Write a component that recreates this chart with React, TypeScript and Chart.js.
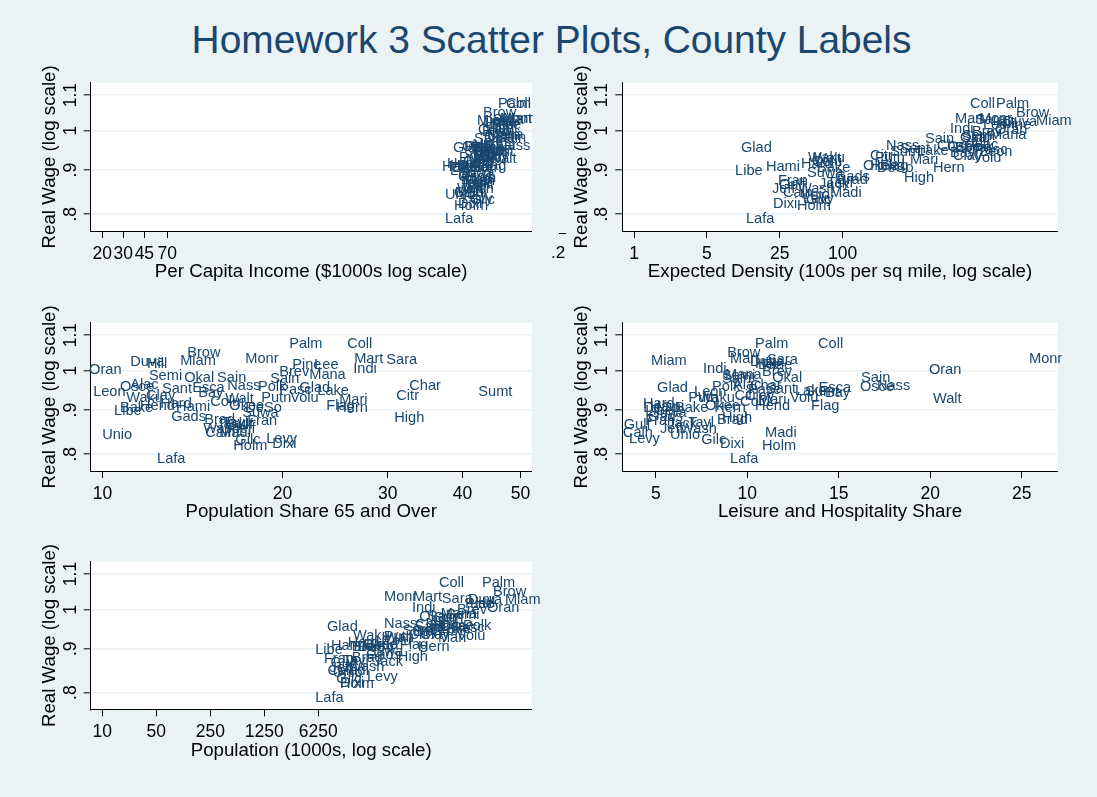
import React, { useEffect, useRef } from "react";
import { Chart, registerables } from "chart.js";

Chart.register(...registerables);

// ---------------- data ----------------
const counties = ["Alac","Bake","Bay","Brad","Brev","Brow","Calh","Char","Citr","Clay","Coll","Colu","DeSo","Dixi","Duva","Esca","Flag","Fran","Gads","Gilc","Glad","Gulf","Hami","Hard","Hend","Hern","High","Hill","Holm","Indi","Jack","Jeff","Lafa","Lake","Lee","Leon","Levy","Libe","Madi","Mana","Mari","Mart","Miam","Monr","Nass","Okal","Okee","Oran","Osce","Palm","Pasc","Pine","Polk","Putn","Sain","Sain","Sant","Sara","Semi","Sumt","Suwa","Tayl","Unio","Volu","Waku","Walt","Wash"];

const realWage = [0.963,0.905,0.942,0.877,0.998,1.048,0.847,0.959,0.934,0.934,
  1.075,0.919,0.905,0.822,1.025,0.954,0.910,0.875,0.885,0.831,
  0.955,0.866,0.908,0.914,0.909,0.905,0.881,1.018,0.819,1.005,
  0.868,0.855,0.789,0.948,1.015,0.945,0.834,0.897,0.847,0.988,
  0.926,1.033,1.027,1.033,0.961,0.980,0.909,1.003,0.957,1.075,
  0.951,1.016,0.957,0.930,0.980,0.978,0.953,1.029,0.985,0.945,
  0.893,0.870,0.843,0.931,0.931,0.927,0.856];

const perCapitaIncome = [23890,19690,25320,20070,30100,30690,17550,31890,25810,28410,
  47750,20870,16890,18960,30690,24830,27870,21700,18960,23890,
  17210,22560,13920,15330,16250,23890,22120,31890,17550,37920,
  20070,19330,14750,25810,35100,26300,20470,16250,17890,33150,
  22120,45090,27340,42550,40160,31290,18960,27870,20470,40950,
  24360,36480,21700,19330,40160,25810,27870,37200,33150,28960,
  18960,19690,14750,25320,23890,33790,18600];

const expectedDensity = [1663,56.8,1070,88.3,1738,4590,26.8,803,183,1143,
  1663,50.9,214,21.5,3448,1195,228,24.0,84.5,44.6,
  10.6,24.5,18.4,39.9,183,735,388,3017,36.5,1070,
  59.4,21.0,11.85,516,2218,2074,41.7,9.3,75.7,2587,
  442,1195,7150,2030,261,1334,157,2889,1001,2953,
  1859,3372,1491,204,1365,616,355,1859,1395,285,
  45.5,70.8,39.0,1777,46.6,52.0,37.3];

const share65 = [11.13,10.70,14.46,14.80,19.75,13.86,14.86,32.58,31.0,11.83,
  25.66,15.14,17.33,19.23,11.13,14.13,23.67,17.46,13.03,16.68,
  21.34,16.11,13.28,12.49,11.56,24.60,30.76,11.87,16.55,26.26,
  15.49,16.49,12.34,22.87,22.60,9.65,18.79,10.46,15.68,22.17,
  24.88,26.36,13.49,17.33,16.17,13.70,16.30,9.50,10.70,20.53,
  19.75,20.77,18.20,18.43,15.55,19.08,12.58,29.83,11.96,42.5,
  17.13,15.86,9.99,20.61,10.96,16.04,14.74];

const leisureShare = [9.22,6.05,14.25,8.35,10.81,8.90,3.20,10.15,9.30,9.88,
  13.87,9.61,4.31,8.51,10.15,13.90,13.49,4.42,4.58,7.48,
  5.07,3.25,4.69,4.30,10.43,8.19,8.62,10.43,10.81,7.58,
  5.62,5.23,9.06,12.61,10.59,7.09,3.54,4.42,10.97,8.79,
  10.59,9.06,4.74,25.40,17.09,11.36,7.69,19.93,16.16,10.43,
  10.04,10.86,8.08,6.77,16.22,8.62,11.03,11.08,8.62,13.16,
  4.69,6.77,5.78,12.34,7.31,20.15,6.33];

const population = [167000,17000,105000,17000,390000,1140000,8200,112000,92000,131000,
  228000,41000,20000,11900,542000,193000,71000,7400,26000,10700,
  8100,9000,9100,15000,24000,122000,67000,667000,11900,102000,
  31900,8700,5700,230000,574000,175000,26700,5700,11000,240000,
  221000,105000,1630000,44300,44300,127000,23500,954000,233000,822000,
  337000,496000,467000,44000,164000,197000,110000,248000,283000,77000,
  26500,13000,9600,390000,17600,45000,15000];

const yTicks = [0.8, 0.9, 1, 1.1];
const yTickLabels = [".8", ".9", "1", "1.1"];
const incomeTicks = [20, 30, 45, 70];
const densityTicks = [1, 5, 25, 100];
const share65Ticks = [10, 20, 30, 40, 50];
const leisureTicks = [5, 10, 15, 20, 25];
const popTicks = [10, 50, 250, 1250, 6250];

// ---------------- styling / layout ----------------
const FONT = '"Liberation Sans", Arial, Helvetica, sans-serif';
const BG = "#EAF2F3";
const NAVY = "#1A476F";

const cols = [
  { left: 0, width: 560, plotLeft: 90.7, plotRight: 531.7 },
  { left: 560, width: 537, plotLeft: 62.3, plotRight: 497.7 },
];
const rows = [
  { top: 58, height: 232, plotTop: 24.7, plotBottom: 173 },
  { top: 298, height: 232, plotTop: 24.7, plotBottom: 173 },
  { top: 537, height: 232, plotTop: 24.7, plotBottom: 172.3 },
];

type PanelCfg = {
  xs: number[];
  type: "logarithmic" | "linear";
  min: number;
  max: number;
  ticks: number[];
  title: string;
  col: number;
  row: number;
};

const panels: PanelCfg[] = [
  { xs: perCapitaIncome, type: "logarithmic", min: 16, max: 78400, ticks: incomeTicks, title: "Per Capita Income ($1000s log scale)", col: 0, row: 0 },
  { xs: expectedDensity, type: "logarithmic", min: 0.772, max: 11540, ticks: densityTicks, title: "Expected Density (100s per sq mile, log scale)", col: 1, row: 0 },
  { xs: share65, type: "logarithmic", min: 9.56, max: 52.2, ticks: share65Ticks, title: "Population Share 65 and Over", col: 0, row: 1 },
  { xs: leisureShare, type: "linear", min: 3.17, max: 26.97, ticks: leisureTicks, title: "Leisure and Hospitality Share", col: 1, row: 1 },
  { xs: population, type: "logarithmic", min: 7.08, max: 3618000, ticks: popTicks, title: "Population (1000s, log scale)", col: 0, row: 2 },
];

function Panel({ cfg }: { cfg: PanelCfg }) {
  const ref = useRef<HTMLCanvasElement>(null);
  const c = cols[cfg.col];
  const r = rows[cfg.row];

  useEffect(() => {
    const canvas = ref.current;
    if (!canvas) return;

    const plugin = {
      id: "stataPanel",
      beforeDraw(chart: any) {
        const { ctx, chartArea: a } = chart;
        ctx.save();
        ctx.fillStyle = "#ffffff";
        ctx.fillRect(a.left, a.top, a.right - a.left, a.bottom - a.top);
        ctx.restore();
      },
      afterDatasetsDraw(chart: any) {
        const { ctx } = chart;
        const meta = chart.getDatasetMeta(0);
        ctx.save();
        ctx.fillStyle = NAVY;
        ctx.font = `14.6px ${FONT}`;
        ctx.textAlign = "left";
        ctx.textBaseline = "middle";
        meta.data.forEach((pt: any, i: number) => {
          ctx.fillText(counties[i], pt.x, pt.y);
        });
        ctx.restore();
      },
      afterDraw(chart: any) {
        const { ctx, chartArea: a } = chart;
        const xs = chart.scales.x;
        const ys = chart.scales.y;
        ctx.save();
        ctx.fillStyle = "#000000";
        ctx.textAlign = "center";
        ctx.textBaseline = "alphabetic";
        ctx.font = `17.5px ${FONT}`;
        cfg.ticks.forEach((v) => {
          ctx.fillText(String(v), xs.getPixelForValue(v), a.bottom + 27.5);
        });
        yTicks.forEach((v, i) => {
          const py = ys.getPixelForValue(v);
          ctx.save();
          ctx.translate(a.left - 15, py);
          ctx.rotate(-Math.PI / 2);
          ctx.fillText(yTickLabels[i], 0, 0);
          ctx.restore();
        });
        ctx.font = `18.7px ${FONT}`;
        ctx.fillText(cfg.title, (a.left + a.right) / 2, a.bottom + 46.3);
        ctx.save();
        ctx.translate(a.left - 35.5, (a.top + a.bottom) / 2);
        ctx.rotate(-Math.PI / 2);
        ctx.fillText("Real Wage (log scale)", 0, 0);
        ctx.restore();
        ctx.restore();
      },
    };

    const chart = new Chart(canvas, {
      type: "scatter",
      data: {
        datasets: [
          {
            data: cfg.xs.map((x, i) => ({ x, y: realWage[i] })),
            pointRadius: 0,
            pointHoverRadius: 0,
            showLine: false,
          },
        ],
      },
      options: {
        animation: false,
        responsive: false,
        devicePixelRatio: 1,
        events: [],
        layout: {
          padding: { left: 0, top: r.plotTop, right: c.width - c.plotRight, bottom: 0 },
        },
        plugins: { legend: { display: false }, tooltip: { enabled: false }, title: { display: false } },
        scales: {
          x: {
            type: cfg.type,
            min: cfg.min,
            max: cfg.max,
            bounds: "data",
            afterBuildTicks: (s: any) => {
              s.ticks = cfg.ticks.map((v) => ({ value: v }));
            },
            afterFit: (s: any) => {
              s.height = r.height - r.plotBottom;
            },
            ticks: { display: false },
            grid: {
              drawOnChartArea: false,
              drawTicks: true,
              tickLength: 7,
              tickColor: "#000000",
              tickWidth: 1,
              color: "#000000",
            },
            border: { display: true, color: "#000000", width: 1 },
          },
          y: {
            type: "logarithmic",
            min: 0.765,
            max: 1.137,
            bounds: "data",
            afterBuildTicks: (s: any) => {
              s.ticks = yTicks.map((v) => ({ value: v }));
            },
            afterFit: (s: any) => {
              s.width = c.plotLeft;
            },
            ticks: { display: false },
            grid: {
              drawOnChartArea: true,
              color: BG,
              lineWidth: 1.6,
              drawTicks: true,
              tickLength: 7,
              tickColor: "#000000",
              tickWidth: 1,
            },
            border: { display: true, color: "#000000", width: 1 },
          },
        } as any,
      },
      plugins: [plugin],
    } as any);

    return () => chart.destroy();
  }, []);

  return (
    <canvas
      ref={ref}
      width={c.width}
      height={r.height}
      style={{ position: "absolute", left: c.left, top: r.top, width: c.width, height: r.height }}
    />
  );
}

export default function App() {
  return (
    <div
      style={{
        position: "absolute",
        left: 0,
        top: 0,
        width: 1097,
        height: 797,
        background: BG,
        overflow: "hidden",
        fontFamily: FONT,
      }}
    >
      <div
        style={{
          position: "absolute",
          left: 0,
          top: 20,
          width: 1103,
          textAlign: "center",
          fontSize: "38.9px",
          lineHeight: "39px",
          color: NAVY,
          whiteSpace: "nowrap",
        }}
      >
        Homework 3 Scatter Plots, County Labels
      </div>
      {panels.map((p, i) => (
        <Panel key={i} cfg={p} />
      ))}
      <div style={{ position: "absolute", left: 559, top: 233, width: 7, height: 1, background: "#000" }} />
      <div
        style={{
          position: "absolute",
          left: 551,
          top: 244,
          fontSize: "17px",
          lineHeight: "17px",
          color: "#000",
          whiteSpace: "nowrap",
        }}
      >
        .2
      </div>
    </div>
  );
}
